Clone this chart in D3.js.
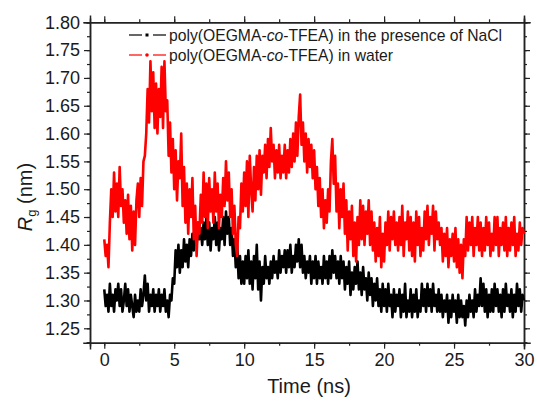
<!DOCTYPE html>
<html>
<head>
<meta charset="utf-8">
<script src="https://cdn.jsdelivr.net/npm/d3@7"></script>
<style>
  body { margin: 0; background: #fff; }
  text { font-family: "Liberation Sans", Arial, sans-serif; fill: #1a1a1a; }
</style>
</head>
<body>
<div id="chart-container"></div>
<script>
const WIDTH = 537;
const HEIGHT = 403;
const PLOT = { left: 90, right: 524, top: 22.3, bottom: 342.7 };

// time step of the samples (ns)
const TIME_STEP = 0.1;

const seriesNames = [
    "poly(OEGMA-co-TFEA) in the presence of NaCl",
    "poly(OEGMA-co-TFEA) in water"
];

// Rg (nm), one value every 0.1 ns from 0 to 30 ns
const rgNaCl = [
    1.32, 1.29, 1.31, 1.28, 1.33, 1.29, 1.31, 1.28, 1.32, 1.30,
    1.33, 1.29, 1.32, 1.28, 1.30, 1.33, 1.29, 1.32, 1.28, 1.31,
    1.29, 1.27, 1.31, 1.28, 1.30, 1.28, 1.32, 1.29, 1.31, 1.345,
    1.30, 1.33, 1.28, 1.31, 1.29, 1.32, 1.28, 1.31, 1.29, 1.32,
    1.28, 1.31, 1.29, 1.32, 1.28, 1.30, 1.27, 1.31, 1.30, 1.34,
    1.33, 1.39, 1.36, 1.40, 1.35, 1.39, 1.36, 1.41, 1.37, 1.40,
    1.36, 1.41, 1.38, 1.42, 1.39, 1.43, 1.40, 1.44, 1.41, 1.43,
    1.40, 1.44, 1.41, 1.45, 1.40, 1.44, 1.39, 1.43, 1.41, 1.45,
    1.40, 1.44, 1.39, 1.43, 1.41, 1.45, 1.40, 1.46, 1.42, 1.45,
    1.40, 1.43, 1.38, 1.41, 1.36, 1.40, 1.34, 1.38, 1.33, 1.37,
    1.33, 1.38, 1.34, 1.39, 1.33, 1.37, 1.32, 1.38, 1.34, 1.40,
    1.32, 1.37, 1.30, 1.36, 1.33, 1.38, 1.34, 1.36, 1.33, 1.37,
    1.34, 1.38, 1.35, 1.37, 1.34, 1.39, 1.35, 1.38, 1.36, 1.39,
    1.35, 1.39, 1.36, 1.40, 1.35, 1.38, 1.36, 1.40, 1.37, 1.41,
    1.36, 1.40, 1.35, 1.38, 1.34, 1.37, 1.35, 1.38, 1.33, 1.37,
    1.34, 1.38, 1.33, 1.37, 1.34, 1.36, 1.33, 1.38, 1.34, 1.37,
    1.33, 1.38, 1.34, 1.39, 1.35, 1.38, 1.34, 1.37, 1.33, 1.38,
    1.34, 1.37, 1.32, 1.36, 1.33, 1.37, 1.31, 1.35, 1.32, 1.36,
    1.33, 1.37, 1.32, 1.35, 1.31, 1.36, 1.32, 1.34, 1.30, 1.35,
    1.31, 1.34, 1.29, 1.33, 1.30, 1.34, 1.29, 1.32, 1.28, 1.33,
    1.29, 1.32, 1.28, 1.33, 1.29, 1.31, 1.27, 1.32, 1.28, 1.31,
    1.29, 1.32, 1.27, 1.31, 1.28, 1.33, 1.27, 1.30, 1.28, 1.32,
    1.27, 1.31, 1.28, 1.32, 1.27, 1.30, 1.28, 1.33, 1.29, 1.32,
    1.28, 1.33, 1.29, 1.32, 1.28, 1.33, 1.29, 1.31, 1.28, 1.32,
    1.28, 1.31, 1.27, 1.30, 1.28, 1.31, 1.26, 1.30, 1.27, 1.31,
    1.28, 1.30, 1.26, 1.31, 1.27, 1.30, 1.27, 1.29, 1.255, 1.30,
    1.27, 1.31, 1.28, 1.30, 1.27, 1.32, 1.28, 1.31, 1.29, 1.34,
    1.29, 1.33, 1.28, 1.32, 1.27, 1.31, 1.28, 1.32, 1.28, 1.33,
    1.29, 1.32, 1.28, 1.31, 1.27, 1.32, 1.28, 1.33, 1.29, 1.31,
    1.28, 1.32, 1.27, 1.31, 1.28, 1.33, 1.29, 1.32, 1.28, 1.31,
    1.30
];

const rgWater = [
    1.41, 1.38, 1.40, 1.36, 1.44, 1.50, 1.45, 1.53, 1.46, 1.51,
    1.45, 1.54, 1.47, 1.50, 1.44, 1.48, 1.42, 1.49, 1.41, 1.47,
    1.39, 1.46, 1.40, 1.48, 1.51, 1.45, 1.52, 1.47, 1.55, 1.56,
    1.60, 1.68, 1.62, 1.73, 1.64, 1.71, 1.61, 1.69, 1.60, 1.68,
    1.63, 1.72, 1.61, 1.73, 1.64, 1.66, 1.56, 1.62, 1.53, 1.59,
    1.50, 1.57, 1.48, 1.55, 1.52, 1.60, 1.47, 1.54, 1.44, 1.51,
    1.42, 1.50, 1.45, 1.52, 1.41, 1.47, 1.38, 1.44, 1.42, 1.49,
    1.44, 1.53, 1.45, 1.51, 1.43, 1.52, 1.46, 1.50, 1.44, 1.53,
    1.46, 1.51, 1.43, 1.49, 1.45, 1.52, 1.47, 1.55, 1.48, 1.53,
    1.45, 1.50, 1.42, 1.47, 1.40, 1.38, 1.45, 1.43, 1.51, 1.46,
    1.53, 1.47, 1.55, 1.45, 1.56, 1.50, 1.46, 1.54, 1.48, 1.56,
    1.50, 1.57, 1.49, 1.56, 1.53, 1.58, 1.52, 1.59, 1.54, 1.61,
    1.55, 1.58, 1.52, 1.57, 1.53, 1.58, 1.52, 1.56, 1.53, 1.58,
    1.52, 1.57, 1.53, 1.59, 1.54, 1.60, 1.55, 1.62, 1.56, 1.63,
    1.67, 1.58, 1.62, 1.55, 1.60, 1.53, 1.59, 1.54, 1.58, 1.52,
    1.57, 1.50, 1.54, 1.47, 1.52, 1.45, 1.50, 1.43, 1.48, 1.44,
    1.50, 1.46, 1.55, 1.59, 1.51, 1.56, 1.46, 1.51, 1.43, 1.50,
    1.45, 1.51, 1.42, 1.48, 1.39, 1.46, 1.41, 1.47, 1.38, 1.44,
    1.37, 1.45, 1.40, 1.48, 1.41, 1.47, 1.40, 1.46, 1.42, 1.48,
    1.40, 1.46, 1.39, 1.44, 1.37, 1.43, 1.38, 1.45, 1.36, 1.42,
    1.37, 1.44, 1.40, 1.46, 1.39, 1.45, 1.41, 1.46, 1.40, 1.44,
    1.39, 1.45, 1.40, 1.47, 1.38, 1.44, 1.41, 1.46, 1.39, 1.45,
    1.38, 1.44, 1.37, 1.46, 1.40, 1.45, 1.38, 1.43, 1.39, 1.46,
    1.41, 1.47, 1.40, 1.45, 1.42, 1.47, 1.39, 1.46, 1.41, 1.44,
    1.40, 1.43, 1.37, 1.42, 1.38, 1.43, 1.36, 1.41, 1.38, 1.42,
    1.37, 1.43, 1.36, 1.41, 1.35, 1.40, 1.34, 1.41, 1.38, 1.45,
    1.39, 1.44, 1.40, 1.45, 1.38, 1.43, 1.40, 1.45, 1.39, 1.44,
    1.38, 1.43, 1.39, 1.45, 1.40, 1.44, 1.38, 1.42, 1.39, 1.45,
    1.40, 1.45, 1.38, 1.43, 1.40, 1.44, 1.39, 1.45, 1.38, 1.43,
    1.39, 1.44, 1.40, 1.45, 1.38, 1.42, 1.39, 1.44, 1.40, 1.43,
    1.42
];

const xTickValues = [0, 5, 10, 15, 20, 25, 30];
const yTickValues = [1.25, 1.30, 1.35, 1.40, 1.45, 1.50, 1.55, 1.60, 1.65, 1.70, 1.75, 1.80];

setup();

function setup() {
    const svg = d3.select("#chart-container").append("svg")
    .attr("width", WIDTH)
    .attr("height", HEIGHT);

    svg.append("rect")
    .attr("width", "100%")
    .attr("height", "100%")
    .attr("fill", "white");

    const xScale = d3.scaleLinear()
      .domain([-1.02, 30])
      .range([PLOT.left, PLOT.right]);

    const yScale = d3.scaleLinear()
      .domain([1.2241, 1.80])
      .range([PLOT.bottom, PLOT.top]);

    drawAxes(svg, xScale, yScale);

    // series: black first, red on top
    const line = d3.line()
      .x((d, i) => xScale(i * TIME_STEP))
      .y(d => yScale(d));

    svg.append("path")
      .datum(rgNaCl)
      .attr("fill", "none")
      .attr("stroke", "black")
      .attr("stroke-width", 2.6)
      .attr("stroke-linejoin", "round")
      .attr("d", line);

    svg.append("path")
      .datum(rgWater)
      .attr("fill", "none")
      .attr("stroke", "#ff0000")
      .attr("stroke-width", 2.6)
      .attr("stroke-linejoin", "round")
      .attr("d", line);

    drawLegend(svg);
}

function drawAxes(svg, xScale, yScale) {
    const xMinor = d3.range(-0, 30.01, 2.5);
    const yMinor = d3.range(1.225, 1.801, 0.025);

    const styleAxis = g => {
        g.select(".domain").attr("stroke", "#222").attr("stroke-width", 1.5);
        g.selectAll(".tick line").attr("stroke", "#222").attr("stroke-width", 1.2);
        g.selectAll(".tick text")
          .attr("font-size", "18px")
          .attr("fill", "#1a1a1a");
    };

    // minor ticks
    svg.append("g")
      .attr("transform", `translate(0,${PLOT.bottom})`)
      .call(d3.axisBottom(xScale).tickValues(xMinor).tickSize(3).tickFormat(""))
      .call(styleAxis);
    svg.append("g")
      .attr("transform", `translate(0,${PLOT.top})`)
      .call(d3.axisTop(xScale).tickValues(xMinor).tickSize(3).tickFormat(""))
      .call(styleAxis);
    svg.append("g")
      .attr("transform", `translate(${PLOT.left},0)`)
      .call(d3.axisLeft(yScale).tickValues(yMinor).tickSize(3).tickFormat(""))
      .call(styleAxis);
    svg.append("g")
      .attr("transform", `translate(${PLOT.right},0)`)
      .call(d3.axisRight(yScale).tickValues(yMinor).tickSize(3).tickFormat(""))
      .call(styleAxis);

    // major ticks
    svg.append("g")
      .attr("transform", `translate(0,${PLOT.bottom})`)
      .call(d3.axisBottom(xScale).tickValues(xTickValues).tickSize(6).tickPadding(5).tickFormat(d3.format("d")))
      .call(styleAxis);
    svg.append("g")
      .attr("transform", `translate(0,${PLOT.top})`)
      .call(d3.axisTop(xScale).tickValues(xTickValues).tickSize(6).tickFormat(""))
      .call(styleAxis);
    svg.append("g")
      .attr("transform", `translate(${PLOT.left},0)`)
      .call(d3.axisLeft(yScale).tickValues(yTickValues).tickSize(6).tickPadding(4).tickFormat(d3.format(".2f")))
      .call(styleAxis);
    svg.append("g")
      .attr("transform", `translate(${PLOT.right},0)`)
      .call(d3.axisRight(yScale).tickValues(yTickValues).tickSize(6).tickFormat(""))
      .call(styleAxis);

    svg.selectAll(".domain").attr("stroke-linecap", "square");

    // axis titles
    svg.append("text")
      .attr("x", 309)
      .attr("y", 393)
      .attr("text-anchor", "middle")
      .attr("font-size", "20px")
      .text("Time (ns)");

    const yTitle = svg.append("text")
      .attr("transform", "translate(32,197) rotate(-90)")
      .attr("text-anchor", "middle")
      .attr("font-size", "20px");
    yTitle.append("tspan").attr("font-style", "italic").text("R");
    yTitle.append("tspan").attr("font-size", "13px").attr("dy", 4).text("g");
    yTitle.append("tspan").attr("dy", -4).text(" (nm)");
}

function drawLegend(svg) {
    const colors = ["black", "#ff0000"];
    const rows = [35, 55];

    seriesNames.forEach((name, i) => {
        const y = rows[i];
        const g = svg.append("g");
        g.append("line")
          .attr("x1", 129).attr("x2", 142)
          .attr("y1", y).attr("y2", y)
          .attr("stroke", colors[i]).attr("stroke-width", 1.2);
        g.append("line")
          .attr("x1", 153).attr("x2", 166)
          .attr("y1", y).attr("y2", y)
          .attr("stroke", colors[i]).attr("stroke-width", 1.2);
        if (i === 0) {
            g.append("rect")
              .attr("x", 145.5).attr("y", y - 1.5)
              .attr("width", 3).attr("height", 3)
              .attr("fill", colors[i]);
        } else {
            g.append("circle")
              .attr("cx", 147).attr("cy", y)
              .attr("r", 1.8)
              .attr("fill", colors[i]);
        }

        // split the name so "co" can be italic
        const parts = name.split("co");
        const label = g.append("text")
          .attr("x", 169)
          .attr("y", y + 5.5)
          .attr("font-size", "15.7px");
        label.append("tspan").text(parts[0]);
        label.append("tspan").attr("font-style", "italic").text("co");
        label.append("tspan").text(parts[1]);
    });
}
</script>
</body>
</html>
